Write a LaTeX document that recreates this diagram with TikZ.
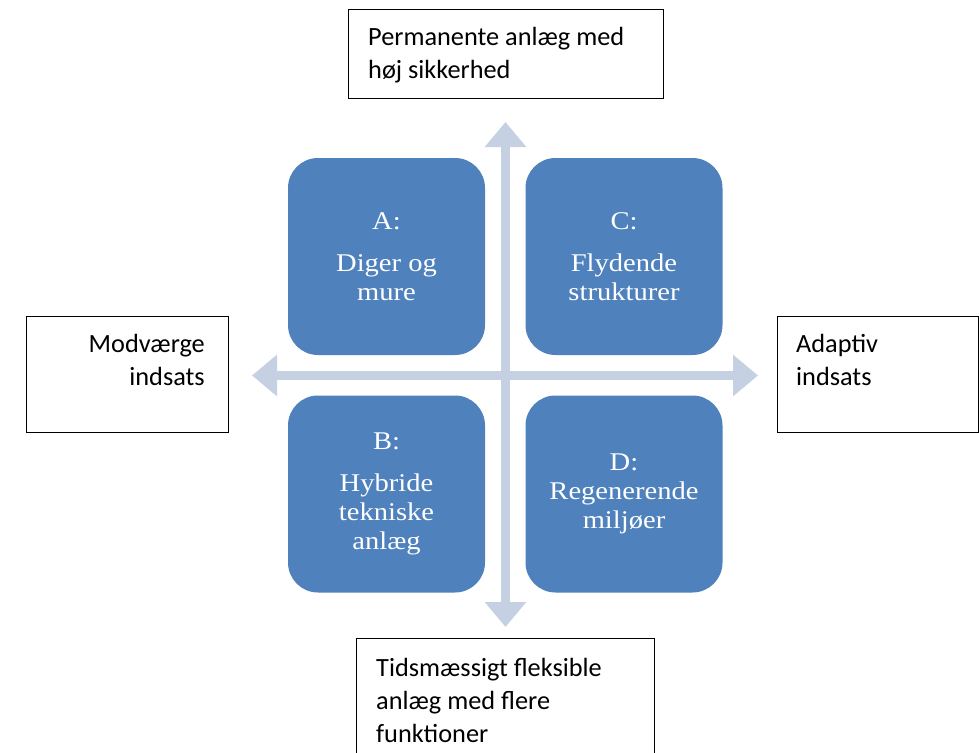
\documentclass[tikz,border=0pt]{standalone}
\usepackage{fontspec}
\setmainfont{Carlito}
\newfontfamily\serifbox[FakeStretch=1.12]{Liberation Serif}
\usetikzlibrary{arrows.meta,calc}
\definecolor{qblue}{HTML}{4F81BD}
\definecolor{qarrow}{HTML}{C5D0E3}
\begin{document}
\begin{tikzpicture}[x=1pt,y=-1pt,
  quad/.style={fill=qblue, rounded corners=30pt, minimum width=197pt, minimum height=197pt, inner sep=0pt, text=white, font=\serifbox\fontsize{25.5}{29}\selectfont, align=center},
  frame/.style={draw=black, line width=1pt, inner sep=0pt, fill=white},
  lbl/.style={inner sep=0pt, font=\fontsize{26.3}{33}\selectfont},
  axis/.style={draw=qarrow, line width=9.5pt, {Triangle[width=40pt,length=25pt]}-{Triangle[width=40pt,length=25pt]}}]
\useasboundingbox[fill=white] (0,0) rectangle (979,752);
% frames
\node[frame, minimum width=315pt, minimum height=88pt] (top) at (505.5,54) {};
\node[frame, minimum width=202pt, minimum height=116pt] (left) at (127,374) {};
\node[frame, minimum width=201pt, minimum height=116pt] (right) at (877.5,374) {};
\node[frame, minimum width=298pt, minimum height=132pt] (bottom) at (505,704) {};
% frame texts (base anchor = baseline of last line)
\node[lbl, anchor=base west, align=left] (toptxt) at (368,78) {Permanente anlæg med\\høj sikkerhed};
\node[lbl, anchor=base east, align=right] (lefttxt) at (205,385) {Modværge\\indsats};
\node[lbl, anchor=base west, align=left] (righttxt) at (796,385) {Adaptiv\\indsats};
\node[lbl, anchor=base west, align=left] (bottomtxt) at (376,742) {Tidsmæssigt fleksible\\anlæg med flere\\funktioner};
% axes
\coordinate (L) at (252,375.5);
\coordinate (R) at (758,375.5);
\coordinate (T) at (505.5,122);
\coordinate (B) at (505.5,627);
\draw[axis] (L) -- (R);
\draw[axis] (T) -- (B);
% quadrants
\node[quad] (A) at (386.5,256.5) {A:\\[13pt]Diger og\\mure};
\node[quad] (C) at (624,256.5) {C:\\[13pt]Flydende\\strukturer};
\node[quad] (Bq) at (386.5,494) {B:\\[13pt]Hybride\\tekniske\\anlæg};
\node[quad] (D) at (624,494) {D:\\Regenerende\\miljøer};
\end{tikzpicture}
\end{document}
